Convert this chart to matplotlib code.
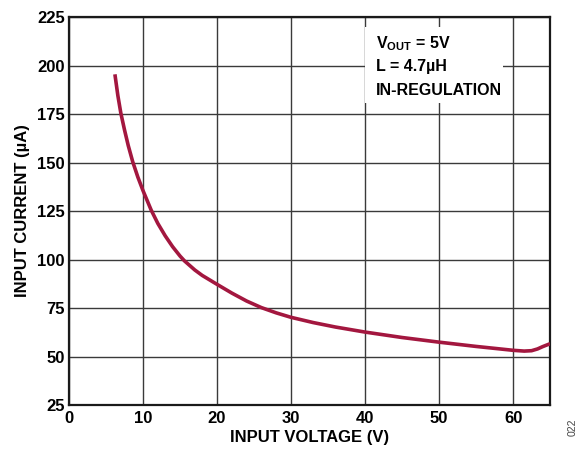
import matplotlib
matplotlib.use("Agg")
import matplotlib.pyplot as plt
from matplotlib.patches import Rectangle

# ─── DATA ──────────────────────────────────────────────────────────────────
vin = [6.2, 6.6, 7.0, 7.5, 8.0, 8.6, 9.3, 10.0, 11.1, 12, 13, 14, 15, 15.6,
       17, 18, 20, 22, 24, 26, 28, 30, 33, 36, 40, 45, 50, 55, 58, 60,
       61.5, 62.5, 63.3, 64, 65]
iin = [195.5, 184.5, 175.5, 166.8, 158.8, 150.5, 142.5, 135.5, 125.5, 118.6,
       112.2, 106.6, 101.8, 99.3, 94.6, 91.8, 87.2, 82.7, 78.6, 75.2, 72.5,
       70.2, 67.5, 65.2, 62.6, 59.8, 57.4, 55.2, 54, 53.2, 52.8, 53, 53.9,
       55.1, 56.6]

x_ticks = [0, 10, 20, 30, 40, 50, 60]
y_ticks = [25, 50, 75, 100, 125, 150, 175, 200, 225]
notes = [r"V$_{\mathrm{OUT}}$ = 5V", "L = 4.7µH", "IN-REGULATION"]

# ─── STYLE ─────────────────────────────────────────────────────────────────
plt.rcParams['font.family'] = ['Liberation Sans', 'DejaVu Sans']
plt.rcParams['font.weight'] = 'bold'
plt.rcParams['mathtext.fontset'] = 'custom'
plt.rcParams['mathtext.rm'] = 'Liberation Sans:bold'
plt.rcParams['mathtext.bf'] = 'Liberation Sans:bold'

fig = plt.figure(figsize=(5.81, 4.5), dpi=100)
ax = fig.add_axes([0.1188, 0.100, 0.828, 0.862])

ax.plot(vin, iin, color='#A3173F', linewidth=2.6, zorder=4,
        solid_capstyle='butt', solid_joinstyle='round')

ax.set_xlim(0, 65)
ax.set_ylim(25, 225)
ax.set_xticks(x_ticks)
ax.set_yticks(y_ticks)
ax.tick_params(length=0, labelsize=12, pad=3)
ax.tick_params(axis='x', pad=4)
for lbl in ax.get_xticklabels() + ax.get_yticklabels():
    lbl.set_fontweight('bold')
ax.grid(True, color='#3a3a3a', linewidth=1.0)
ax.set_axisbelow(True)
for sp in ax.spines.values():
    sp.set_linewidth(1.6)
    sp.set_color('#1a1a1a')

ax.set_xlabel("INPUT VOLTAGE (V)", fontsize=12, fontweight='bold', labelpad=3)
ax.set_ylabel("INPUT CURRENT (µA)", fontsize=12, fontweight='bold', labelpad=5)

# white note box over the grid
ax.add_patch(Rectangle((0.615, 0.778), 0.287, 0.196, transform=ax.transAxes,
                       facecolor='white', edgecolor='none', zorder=3))
for i, t in enumerate(notes):
    ax.text(0.638, 0.932 - i * 0.060, t, transform=ax.transAxes,
            fontsize=11.5, fontweight='bold', va='center', ha='left', zorder=5)

fig.text(0.985, 0.03, "022", rotation=90, fontsize=7.5, color='#444444',
         fontweight='normal', ha='center', va='bottom')

fig.savefig("out.png", dpi=100)
